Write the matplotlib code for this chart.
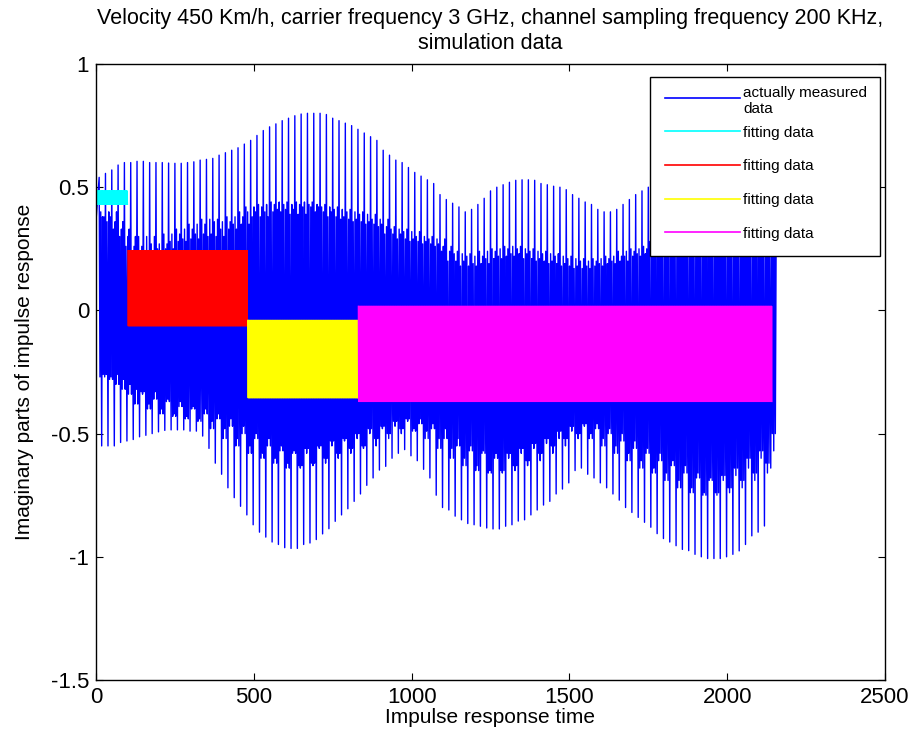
import numpy as np
import matplotlib
matplotlib.use("Agg")
import matplotlib.pyplot as plt

plt.rcParams['font.family'] = ['Liberation Sans', 'DejaVu Sans']

# ---------------- data ----------------
# peak value of each big upward spike (one per ~20-sample cycle, first at t=10)
top_peaks = [0.54, 0.556, 0.57, 0.59, 0.60, 0.60, 0.605, 0.605, 0.60, 0.60,
             0.60, 0.598, 0.597, 0.597, 0.60, 0.603, 0.61, 0.613, 0.617, 0.63,
             0.64, 0.65, 0.66, 0.675, 0.69, 0.71, 0.73, 0.745, 0.757, 0.77,
             0.78, 0.79, 0.797, 0.80, 0.80, 0.80, 0.795, 0.78, 0.77, 0.76,
             0.75, 0.735, 0.72, 0.705, 0.69, 0.65, 0.63, 0.61, 0.60, 0.58,
             0.56, 0.545, 0.53, 0.515, 0.47, 0.45, 0.435, 0.42, 0.40, 0.41,
             0.43, 0.455, 0.485, 0.50, 0.51, 0.52, 0.528, 0.53, 0.53, 0.528,
             0.515, 0.51, 0.504, 0.50, 0.49, 0.47, 0.455, 0.44, 0.43, 0.41,
             0.40, 0.40, 0.41, 0.43, 0.45, 0.47, 0.485, 0.50, 0.51, 0.52,
             0.53, 0.54, 0.55, 0.555, 0.56, 0.56, 0.56, 0.56, 0.555, 0.55,
             0.54, 0.53, 0.52, 0.505, 0.49, 0.475, 0.46, 0.45]
# value of each big downward spike
bottom_peaks = [-0.55, -0.55, -0.55, -0.536, -0.53, -0.524, -0.513, -0.507, -0.50, -0.493,
                -0.487, -0.485, -0.485, -0.485, -0.49, -0.49, -0.51, -0.56, -0.62, -0.665,
                -0.72, -0.76, -0.795, -0.83, -0.87, -0.90, -0.92, -0.94, -0.95, -0.963,
                -0.966, -0.966, -0.95, -0.944, -0.93, -0.907, -0.886, -0.856, -0.83, -0.805,
                -0.775, -0.745, -0.71, -0.68, -0.648, -0.633, -0.60, -0.58, -0.565, -0.59,
                -0.61, -0.645, -0.68, -0.75, -0.80, -0.81, -0.835, -0.85, -0.865, -0.87,
                -0.876, -0.883, -0.887, -0.887, -0.876, -0.87, -0.855, -0.85, -0.83, -0.81,
                -0.79, -0.775, -0.745, -0.725, -0.70, -0.65, -0.64, -0.665, -0.68, -0.70,
                -0.72, -0.745, -0.77, -0.80, -0.82, -0.84, -0.86, -0.88, -0.906, -0.926,
                -0.94, -0.955, -0.97, -0.975, -0.99, -1.0, -1.007, -1.007, -1.007, -1.0,
                -0.99, -0.976, -0.95, -0.915, -0.90, -0.875, -0.64]
# upper / lower level of the dense inner oscillation in each cycle
inner_high = [0.38, 0.40, 0.36, 0.33, 0.30,
              0.26, 0.24, 0.30, 0.22, 0.27, 0.25, 0.31, 0.28,
              0.33, 0.29, 0.35, 0.31, 0.37, 0.30, 0.36, 0.33, 0.38, 0.35, 0.40,
              0.42, 0.38, 0.43, 0.40, 0.44, 0.41, 0.43, 0.39, 0.44, 0.42, 0.43,
              0.40, 0.42, 0.38, 0.41, 0.37, 0.40, 0.36, 0.39, 0.35, 0.37,
              0.34, 0.31, 0.33, 0.29, 0.32, 0.28, 0.30, 0.27, 0.29, 0.26,
              0.24, 0.20, 0.23, 0.18, 0.22, 0.19, 0.24, 0.21, 0.25, 0.22, 0.26,
              0.23, 0.25, 0.21, 0.24, 0.20, 0.23, 0.19, 0.22, 0.18, 0.21, 0.17,
              0.20, 0.18, 0.21, 0.19, 0.22, 0.20, 0.24, 0.22, 0.25, 0.23,
              0.26, 0.28, 0.25, 0.29, 0.27, 0.30, 0.28, 0.31, 0.29, 0.30, 0.28,
              0.31, 0.29, 0.30, 0.27, 0.29, 0.26, 0.28, 0.25, 0.27, 0.26]
inner_low = [-0.27, -0.26, -0.28, -0.30, -0.32,
             -0.34, -0.38, -0.33, -0.40, -0.36, -0.42, -0.37, -0.43,
             -0.39, -0.44, -0.40, -0.45, -0.42, -0.48, -0.44, -0.52, -0.47, -0.55, -0.50,
             -0.58, -0.52, -0.60, -0.55, -0.62, -0.57, -0.64, -0.58, -0.63, -0.56, -0.62,
             -0.55, -0.60, -0.53, -0.58, -0.52, -0.56, -0.50, -0.55, -0.48, -0.52,
             -0.47, -0.50, -0.45, -0.48, -0.44, -0.49, -0.46, -0.52, -0.48, -0.56,
             -0.52, -0.60, -0.55, -0.63, -0.57, -0.65, -0.58, -0.66, -0.60, -0.65, -0.58,
             -0.63, -0.56, -0.61, -0.54, -0.58, -0.52, -0.55, -0.49, -0.52, -0.47, -0.50,
             -0.46, -0.52, -0.48, -0.55, -0.50, -0.58, -0.53, -0.61, -0.56, -0.64,
             -0.58, -0.66, -0.61, -0.69, -0.63, -0.72, -0.66, -0.74, -0.68, -0.75, -0.69,
             -0.74, -0.67, -0.72, -0.64, -0.69, -0.60, -0.66, -0.57, -0.62, -0.50]

# fitting data segments: time range and band limits
fit_start = [1, 101, 481, 831]
fit_end = [100, 480, 830, 2142]
fit_high = [0.485, 0.243, -0.04, 0.017]
fit_low = [0.43, -0.063, -0.355, -0.37]
fit_colors = ['#00ffff', '#ff0000', '#ffff00', '#ff00ff']

title_text = ("Velocity 450 Km/h, carrier frequency 3 GHz, channel sampling frequency 200 KHz,\n"
              "simulation data")
xlabel_text = "Impulse response time"
ylabel_text = "Imaginary parts of impulse response"
legend_labels = ["actually measured\ndata", "fitting data", "fitting data",
                 "fitting data", "fitting data"]
xticks = [0, 500, 1000, 1500, 2000, 2500]
yticks = [-1.5, -1, -0.5, 0, 0.5, 1]
ytick_labels = ["-1.5", "-1", "-0.5", "0", "0.5", "1"]

# ---------------- build the measured waveform ----------------
period = 20
first_top = 10
n = len(top_peaks)
t_vals = [1]
y_vals = [inner_high[0]]
for k in range(n):
    b = first_top + period * k
    kp = min(k + 1, n - 1)
    km = max(k - 1, 0)
    seq = [(b, top_peaks[k]), (b + 2.5, inner_low[k]), (b + 5, inner_high[kp])]
    if k < len(bottom_peaks):
        seq.append((b + 8, bottom_peaks[k]))
        seq += [(b + 10.5, inner_high[k]), (b + 13, inner_low[kp]),
                (b + 15, inner_high[km]), (b + 17.5, inner_low[km])]
    for t, v in seq:
        t_vals.append(t)
        y_vals.append(v)

fig = plt.figure(figsize=(9.09, 7.38), dpi=100)
ax = fig.add_axes([96 / 909, 1 - 680 / 738, 789 / 909, 616 / 738])

h_meas, = ax.plot(t_vals, y_vals, color='#0000ff', lw=1.0)
handles = [h_meas]
for s, e, hi, lo, c in zip(fit_start, fit_end, fit_high, fit_low, fit_colors):
    tt = np.arange(s, e + 1)
    yy = np.where((tt - s) % 2 == 0, hi, lo)
    h, = ax.plot(tt, yy, color=c, lw=0.8)
    handles.append(h)

ax.set_xlim(0, 2500)
ax.set_ylim(-1.5, 1)
ax.set_xticks(xticks)
ax.set_xticklabels([str(v) for v in xticks])
ax.set_yticks(yticks)
ax.set_yticklabels(ytick_labels)
ax.tick_params(direction='in', length=5, width=0.8, top=True, right=True,
               labelsize=16, pad=5)
for sp in ax.spines.values():
    sp.set_linewidth(1.0)

ax.set_title(title_text, fontsize=15.5, pad=11, linespacing=1.25)
ax.set_xlabel(xlabel_text, fontsize=15, labelpad=0)
ax.set_ylabel(ylabel_text, fontsize=15, labelpad=12)

first_lines = legend_labels[0].split('\n')
shown_labels = [first_lines[0]] + legend_labels[1:]
leg = ax.legend(handles, shown_labels, loc='upper left',
                bbox_to_anchor=(650 / 909, 1 - 255 / 738, 230 / 909, 178 / 738),
                bbox_transform=fig.transFigure, mode='expand', borderaxespad=0,
                fancybox=False, framealpha=1, edgecolor='black', fontsize=11,
                handlelength=4.9, handletextpad=0.2, labelspacing=1.28,
                borderpad=1.0)
leg.get_frame().set_linewidth(1.0)
for ln in leg.get_lines():
    ln.set_linewidth(1.2)

fig.canvas.draw()
t0 = leg.get_texts()[0]
bb = t0.get_window_extent()
t0.set_visible(False)
W, H = fig.bbox.width, fig.bbox.height
fig.text(bb.x0 / W, ((bb.y0 + bb.y1) / 2 + 13) / H, legend_labels[0],
         fontsize=11, ha='left', va='top', linespacing=1.2, zorder=10)

fig.savefig("out.png", dpi=100)
